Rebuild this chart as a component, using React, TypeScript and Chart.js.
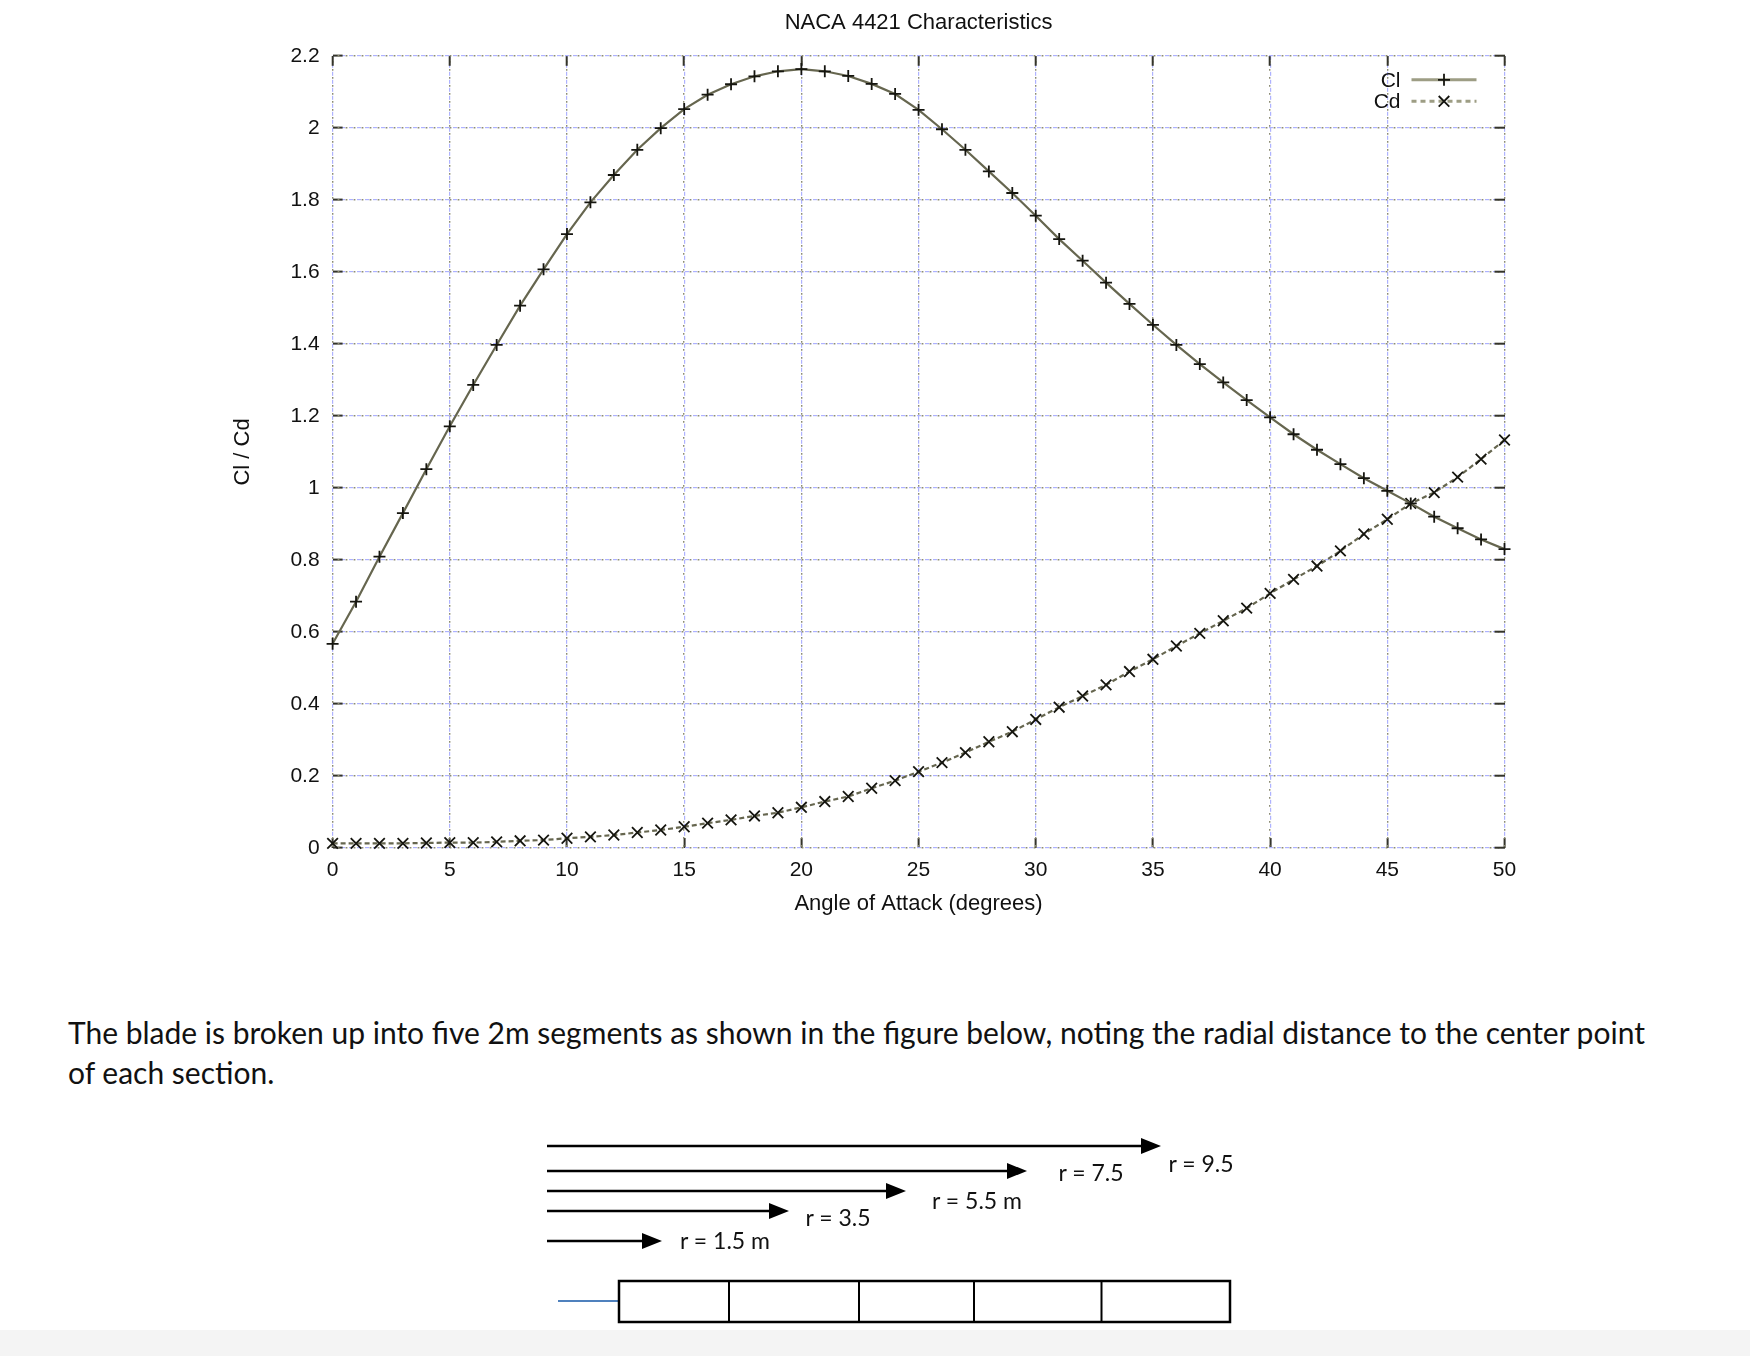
import React, { useEffect, useRef } from 'react';
import { Chart, registerables } from 'chart.js';

Chart.register(...registerables);

// ---- chart data ----
const angles = [0, 1, 2, 3, 4, 5, 6, 7, 8, 9, 10, 11, 12, 13, 14, 15, 16, 17, 18, 19, 20, 21, 22, 23, 24, 25, 26, 27, 28, 29, 30, 31, 32, 33, 34, 35, 36, 37, 38, 39, 40, 41, 42, 43, 44, 45, 46, 47, 48, 49, 50];

const clValues = [0.567, 0.684, 0.809, 0.930, 1.052, 1.171, 1.286, 1.397, 1.506, 1.607, 1.705, 1.793, 1.869, 1.939, 1.999, 2.052, 2.092, 2.121, 2.143, 2.157, 2.163, 2.157, 2.144, 2.122, 2.094, 2.050, 1.996, 1.939, 1.879, 1.819, 1.756, 1.691, 1.631, 1.570, 1.511, 1.453, 1.397, 1.344, 1.293, 1.244, 1.196, 1.149, 1.106, 1.066, 1.027, 0.992, 0.957, 0.920, 0.888, 0.857, 0.830];

const cdValues = [0.013, 0.013, 0.013, 0.013, 0.014, 0.015, 0.015, 0.017, 0.020, 0.022, 0.027, 0.031, 0.036, 0.043, 0.050, 0.059, 0.069, 0.078, 0.089, 0.098, 0.113, 0.129, 0.143, 0.166, 0.187, 0.212, 0.237, 0.265, 0.295, 0.323, 0.357, 0.391, 0.422, 0.453, 0.490, 0.524, 0.561, 0.596, 0.631, 0.666, 0.707, 0.746, 0.783, 0.825, 0.872, 0.913, 0.957, 0.987, 1.030, 1.080, 1.133];

const seriesLabels = ['Cl', 'Cd'];
const chartTitle = 'NACA 4421 Characteristics';
const xAxisTitle = 'Angle of Attack (degrees)';
const yAxisTitle = 'Cl / Cd';
const xTickStep = 5;
const yTickStep = 0.2;
const xRange = [0, 50];
const yRange = [0, 2.2];

// ---- page text ----
const paragraphLines = [
  'The blade is broken up into five 2m segments as shown in the figure below, noting the radial distance to the center point',
  'of each section.',
];
const radiusLabels = ['r = 9.5', 'r = 7.5', 'r = 5.5 m', 'r = 3.5', 'r = 1.5 m'];

const FONT = '"Liberation Sans", Arial, sans-serif';
const LINE_COLOR = '#66664f';
const MARK_COLOR = '#15150f';
const BLUE_GRID = '#aeb2ff';
const GRAY_GRID = '#8c8c74';
const TICK_COLOR = '#34342a';

function drawMarker(ctx: CanvasRenderingContext2D, style: string, x: number, y: number, r: number) {
  ctx.beginPath();
  if (style === 'cross') {
    ctx.moveTo(x - r, y); ctx.lineTo(x + r, y);
    ctx.moveTo(x, y - r); ctx.lineTo(x, y + r);
  } else {
    const d = r * 0.7071;
    ctx.moveTo(x - d, y - d); ctx.lineTo(x + d, y + d);
    ctx.moveTo(x - d, y + d); ctx.lineTo(x + d, y - d);
  }
  ctx.stroke();
}

const legendPlugin = {
  id: 'gnuLegend',
  afterDatasetsDraw(chart: any) {
    const { ctx, chartArea } = chart;
    chart.data.datasets.forEach((ds: any, i: number) => {
      const y = chartArea.top + 24 + i * 21.5;
      const textRight = chartArea.right - 104;
      const x1 = chartArea.right - 93;
      const x2 = chartArea.right - 28;
      ctx.save();
      ctx.font = `21px ${FONT}`;
      ctx.fillStyle = '#111';
      ctx.textAlign = 'right';
      ctx.textBaseline = 'middle';
      ctx.fillText(ds.label, textRight, y + 1);
      ctx.strokeStyle = '#9d9d84';
      ctx.lineWidth = 3;
      ctx.setLineDash(ds.borderDash ? [5, 4] : []);
      ctx.beginPath();
      ctx.moveTo(x1, y);
      ctx.lineTo(x2, y);
      ctx.stroke();
      ctx.setLineDash([]);
      ctx.strokeStyle = MARK_COLOR;
      ctx.lineWidth = 1.8;
      drawMarker(ctx, ds.pointStyle, (x1 + x2) / 2, y, ds.pointRadius);
      ctx.restore();
    });
  },
};

function ChartView() {
  const ref = useRef<HTMLCanvasElement | null>(null);
  useEffect(() => {
    if (!ref.current) return;
    const fmt = (v: any) => String(Math.round(Number(v) * 10) / 10);
    const chart = new Chart(ref.current, {
      type: 'line',
      data: {
        datasets: [
          {
            label: seriesLabels[0],
            data: angles.map((a, i) => ({ x: a, y: clValues[i] })),
            xAxisID: 'x',
            yAxisID: 'y',
            borderColor: LINE_COLOR,
            borderWidth: 2.2,
            pointStyle: 'cross',
            pointRadius: 6,
            pointBorderColor: MARK_COLOR,
            pointBorderWidth: 1.8,
            pointBackgroundColor: 'rgba(0,0,0,0)',
            tension: 0,
            clip: false,
          } as any,
          {
            label: seriesLabels[1],
            data: angles.map((a, i) => ({ x: a, y: cdValues[i] })),
            xAxisID: 'x',
            yAxisID: 'y',
            borderColor: LINE_COLOR,
            borderWidth: 2.2,
            borderDash: [5, 3],
            pointStyle: 'crossRot',
            pointRadius: 7.5,
            pointBorderColor: MARK_COLOR,
            pointBorderWidth: 1.8,
            pointBackgroundColor: 'rgba(0,0,0,0)',
            tension: 0,
            clip: false,
          } as any,
        ],
      },
      options: {
        animation: false,
        responsive: false,
        maintainAspectRatio: false,
        events: [],
        layout: { padding: { left: 224, right: 245.5, top: 0, bottom: 0 } },
        plugins: {
          legend: { display: false },
          tooltip: { enabled: false },
          title: {
            display: true,
            text: chartTitle,
            fullSize: false,
            color: '#111',
            font: { family: FONT, size: 22, weight: 'normal' },
            padding: { top: 9.6, bottom: 19.8 },
          },
        },
        scales: {
          x: {
            type: 'linear',
            axis: 'x',
            position: 'bottom',
            min: xRange[0],
            max: xRange[1],
            ticks: { stepSize: xTickStep, color: '#111', font: { family: FONT, size: 21 }, padding: 20, maxRotation: 0, autoSkip: false },
            grid: { color: BLUE_GRID, lineWidth: 1.2, drawTicks: true, tickLength: -10, tickColor: TICK_COLOR, tickWidth: 2 },
            border: { display: false, dash: [4, 4], dashOffset: 0 },
            title: { display: true, text: xAxisTitle, color: '#111', font: { family: FONT, size: 22 }, padding: { top: 0, bottom: 13 } },
            afterFit: (axis: any) => { axis.height = 82; },
          },
          xTop: {
            type: 'linear',
            axis: 'x',
            position: 'top',
            min: xRange[0],
            max: xRange[1],
            ticks: { stepSize: xTickStep, display: false },
            grid: { color: GRAY_GRID, lineWidth: 1.4, drawTicks: true, tickLength: -10, tickColor: TICK_COLOR, tickWidth: 2 },
            border: { display: false, dash: [1.8, 6.2], dashOffset: -5 },
            afterFit: (axis: any) => { axis.height = 0; },
          },
          y: {
            type: 'linear',
            axis: 'y',
            position: 'left',
            min: yRange[0],
            max: yRange[1],
            ticks: { stepSize: yTickStep, color: '#111', font: { family: FONT, size: 21 }, padding: 23, callback: fmt },
            grid: { color: BLUE_GRID, lineWidth: 1.2, drawTicks: true, tickLength: -10, tickColor: TICK_COLOR, tickWidth: 2 },
            border: { display: false, dash: [4, 4], dashOffset: 0 },
            title: { display: true, text: yAxisTitle, color: '#111', font: { family: FONT, size: 22 }, padding: { top: 6, bottom: 0 } },
            afterFit: (axis: any) => { axis.width = 108.6; },
          },
          yRight: {
            type: 'linear',
            axis: 'y',
            position: 'right',
            min: yRange[0],
            max: yRange[1],
            ticks: { stepSize: yTickStep, display: false },
            grid: { color: GRAY_GRID, lineWidth: 1.4, drawTicks: true, tickLength: -10, tickColor: TICK_COLOR, tickWidth: 2 },
            border: { display: false, dash: [1.8, 6.2], dashOffset: -5 },
            afterFit: (axis: any) => { axis.width = 0; },
          },
        },
      } as any,
      plugins: [legendPlugin],
    });
    return () => chart.destroy();
  }, []);
  return (
    <canvas
      ref={ref}
      width={1750}
      height={930}
      style={{ position: 'absolute', left: 0, top: 0, width: 1750, height: 930, display: 'block' }}
    />
  );
}

function BladeDiagram() {
  const arrows = [
    { x1: 547, x2: 1161, y: 1146 },
    { x1: 547, x2: 1027, y: 1171 },
    { x1: 547, x2: 906, y: 1191 },
    { x1: 547, x2: 789, y: 1211 },
    { x1: 547, x2: 662, y: 1241 },
  ];
  const labelPos = [
    { x: 1201, y: 1163 },
    { x: 1091, y: 1172 },
    { x: 977, y: 1200 },
    { x: 838, y: 1217 },
    { x: 725, y: 1240 },
  ];
  const dividers = [729, 859, 974, 1101.5];
  return (
    <svg
      width={1750}
      height={1356}
      style={{ position: 'absolute', left: 0, top: 0, pointerEvents: 'none' }}
    >
      {arrows.map((a, i) => (
        <g key={'a' + i}>
          <line x1={a.x1} y1={a.y} x2={a.x2 - 16} y2={a.y} stroke="#000" strokeWidth={2.5} />
          <polygon points={`${a.x2 - 20},${a.y - 8} ${a.x2},${a.y} ${a.x2 - 20},${a.y + 8}`} fill="#000" />
        </g>
      ))}
      {radiusLabels.map((t, i) => (
        <text
          key={'t' + i}
          x={labelPos[i].x}
          y={labelPos[i].y}
          textAnchor="middle"
          dominantBaseline="central"
          fontFamily="Lato, 'Open Sans', sans-serif"
          fontSize={23}
          fill="#111"
        >
          {t}
        </text>
      ))}
      <line x1={558} y1={1301} x2={619} y2={1301} stroke="#4f81bd" strokeWidth={2} />
      <rect x={619} y={1281} width={611} height={41} fill="none" stroke="#000" strokeWidth={2.5} />
      {dividers.map((x, i) => (
        <line key={'d' + i} x1={x} y1={1281} x2={x} y2={1322} stroke="#000" strokeWidth={2} />
      ))}
    </svg>
  );
}

export default function App() {
  return (
    <div style={{ position: 'absolute', left: 0, top: 0, width: 1750, height: 1356, overflow: 'hidden', background: '#fff' }}>
      <ChartView />
      <div
        style={{
          position: 'absolute',
          left: 68,
          top: 1012,
          fontFamily: "Lato, 'Open Sans', sans-serif",
          fontSize: 30,
          lineHeight: '40px',
          color: '#111',
          whiteSpace: 'nowrap',
        }}
      >
        {paragraphLines.map((l, i) => (
          <div key={i}>{l}</div>
        ))}
      </div>
      <BladeDiagram />
      <div style={{ position: 'absolute', left: 0, top: 1330, width: 1750, height: 26, background: '#f4f4f4' }} />
    </div>
  );
}
